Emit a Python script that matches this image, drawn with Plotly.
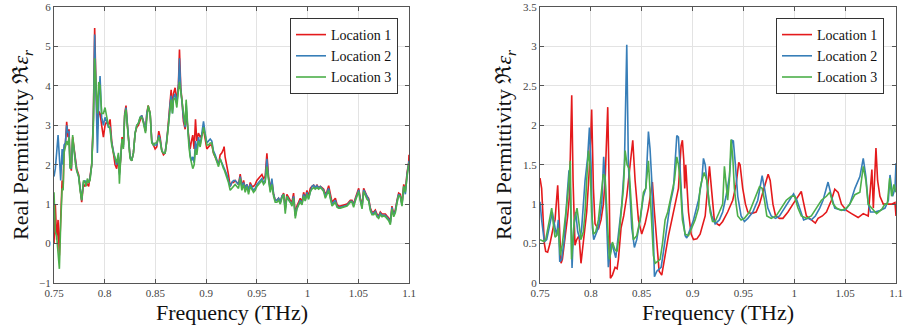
import plotly.graph_objects as go

# ---------------- Left panel data (shared frequency grid) ----------------
freq_a = [0.7500,0.7513,0.7526,0.7540,0.7553,0.7566,0.7580,0.7590,0.7599,0.7612,0.7625,0.7638,0.7648,0.7658,0.7671,0.7684,0.7697,0.7710,0.7724,0.7743,
0.7757,0.7773,0.7790,0.7806,0.7816,0.7829,0.7842,0.7855,0.7872,0.7888,0.7901,0.7914,0.7928,0.7941,0.7954,0.7970,0.7987,0.8003,0.8020,0.8036,
0.8053,0.8069,0.8086,0.8102,0.8118,0.8135,0.8145,0.8158,0.8171,0.8184,0.8197,0.8210,0.8224,0.8237,0.8250,0.8266,0.8283,0.8300,0.8316,0.8332,
0.8349,0.8365,0.8382,0.8402,0.8415,0.8428,0.8448,0.8464,0.8480,0.8497,0.8513,0.8533,0.8546,0.8563,0.8579,0.8596,0.8612,0.8628,0.8645,0.8655,
0.8668,0.8678,0.8694,0.8711,0.8727,0.8737,0.8750,0.8763,0.8776,0.8793,0.8803,0.8816,0.8829,0.8842,0.8855,0.8868,0.8882,0.8895,0.8908,0.8924,
0.8941,0.8957,0.8974,0.8990,0.9007,0.9023,0.9040,0.9056,0.9072,0.9089,0.9105,0.9122,0.9138,0.9155,0.9171,0.9177,0.9187,0.9204,0.9220,0.9237,
0.9253,0.9270,0.9286,0.9303,0.9319,0.9336,0.9352,0.9369,0.9385,0.9402,0.9418,0.9435,0.9451,0.9467,0.9484,0.9500,0.9517,0.9533,0.9550,0.9566,
0.9582,0.9599,0.9615,0.9632,0.9648,0.9665,0.9681,0.9698,0.9714,0.9731,0.9747,0.9764,0.9780,0.9796,0.9813,0.9829,0.9846,0.9862,0.9879,0.9895,
0.9912,0.9928,0.9945,0.9961,0.9977,0.9994,1.0010,1.0027,1.0043,1.0060,1.0076,1.0093,1.0109,1.0126,1.0142,1.0159,1.0175,1.0191,1.0208,1.0224,
1.0241,1.0257,1.0274,1.0290,1.0306,1.0323,1.0356,1.0389,1.0405,1.0422,1.0438,1.0454,1.0471,1.0487,1.0504,1.0520,1.0537,1.0553,1.0569,1.0586,
1.0602,1.0619,1.0635,1.0652,1.0668,1.0684,1.0701,1.0717,1.0734,1.0750,1.0767,1.0783,1.0800,1.0816,1.0832,1.0849,1.0865,1.0882,1.0898,1.0915,
1.0931,1.0948,1.0964,1.0981,1.0997,1.1000]

perm_a_loc1 = [0.00,1.00,0.10,0.60,-0.30,0.80,1.60,1.40,2.40,2.50,3.09,2.70,2.90,2.00,1.85,2.70,2.40,2.10,1.90,1.75,
1.40,1.05,1.50,1.45,1.55,1.50,1.45,1.70,2.00,3.20,5.47,4.00,2.90,3.35,3.30,3.00,2.70,3.00,3.10,3.00,
3.15,2.60,2.25,2.00,1.90,2.20,1.80,2.15,2.70,2.50,3.30,3.50,3.00,2.50,2.20,2.10,2.30,2.80,2.95,3.00,
3.15,3.25,3.10,2.85,3.30,3.50,3.30,2.60,2.50,2.40,2.45,2.85,2.70,2.35,2.25,2.30,2.60,3.00,3.60,3.90,
3.40,3.80,3.95,3.60,4.05,4.92,3.95,3.60,3.10,2.90,3.40,3.00,2.70,2.40,2.60,2.75,2.40,3.15,2.60,2.80,
2.70,2.75,2.90,2.60,2.40,2.45,2.50,2.50,2.30,2.20,2.10,2.00,2.25,2.30,2.40,2.46,2.20,2.00,1.75,1.45,
1.55,1.55,1.60,1.55,1.50,1.76,1.45,1.60,1.40,1.50,1.35,1.55,1.45,1.45,1.50,1.60,1.65,1.70,1.75,1.65,
1.70,2.29,1.70,1.40,1.60,1.25,1.10,1.10,1.15,1.05,1.20,1.28,0.90,1.25,1.15,1.10,1.05,1.28,0.75,0.95,
1.05,1.15,1.05,1.30,1.15,1.35,1.20,1.40,1.45,1.48,1.42,1.48,1.42,1.45,1.42,1.38,1.25,1.32,1.47,1.22,
1.05,1.10,1.15,1.00,0.95,0.95,0.97,1.00,1.05,1.10,1.10,1.00,1.15,1.30,1.40,1.15,0.95,1.40,1.30,1.20,
1.15,0.90,0.80,0.80,0.85,0.75,0.70,0.80,0.75,0.75,0.75,0.70,0.65,0.55,0.95,0.75,0.85,1.10,1.28,1.25,
1.00,1.50,1.35,1.80,2.05,2.25]

perm_a_loc2 = [1.70,1.90,2.30,2.75,2.20,1.60,2.40,2.00,2.50,2.55,3.00,2.80,2.85,1.95,1.90,2.65,2.40,2.10,1.85,1.70,
1.40,1.10,1.55,1.60,1.50,1.60,1.55,1.65,2.00,3.10,5.30,3.80,2.30,3.60,4.25,3.20,3.00,3.20,3.10,2.95,
2.95,2.55,2.30,2.15,2.00,2.25,1.75,2.20,2.65,2.45,3.25,3.45,2.95,2.50,2.20,2.10,2.30,2.80,3.00,3.05,
3.20,3.25,3.10,2.85,3.30,3.45,3.30,2.60,2.50,2.50,2.50,2.75,2.65,2.35,2.30,2.30,2.60,3.00,3.55,3.75,
3.30,3.70,3.80,3.55,4.00,4.70,3.90,3.55,3.20,2.95,3.55,3.00,2.60,2.25,2.10,2.20,2.05,2.60,2.35,2.70,
2.50,2.85,3.10,2.80,2.55,2.60,2.65,2.60,2.35,2.25,2.10,2.00,2.15,2.05,1.95,1.95,1.85,1.75,1.60,1.45,
1.55,1.60,1.60,1.55,1.50,1.70,1.45,1.55,1.40,1.50,1.35,1.50,1.40,1.35,1.40,1.50,1.55,1.60,1.65,1.55,
1.60,2.15,1.65,1.35,1.65,1.25,1.10,1.10,1.15,1.05,1.20,1.25,0.85,1.20,1.10,1.05,1.00,1.20,0.70,0.90,
1.00,1.10,1.00,1.25,1.10,1.30,1.15,1.35,1.45,1.48,1.42,1.47,1.40,1.45,1.40,1.35,1.20,1.28,1.40,1.18,
1.00,1.05,1.10,0.95,0.92,0.92,0.94,0.97,1.02,1.07,1.07,0.97,1.12,1.27,1.36,1.12,0.92,1.36,1.27,1.17,
1.12,0.87,0.77,0.77,0.82,0.72,0.67,0.77,0.72,0.72,0.72,0.67,0.62,0.52,0.92,0.72,0.82,1.07,1.25,1.20,
0.97,1.45,1.25,1.75,2.00,2.10]

perm_a_loc3 = [1.30,0.30,0.20,-0.20,-0.64,0.50,1.40,1.35,2.30,2.45,2.60,2.50,2.70,1.90,1.95,2.75,2.35,2.05,1.85,1.70,
1.35,1.10,1.60,1.55,1.45,1.65,1.55,1.60,2.00,3.00,4.70,3.90,3.30,4.10,4.00,3.30,3.30,3.45,3.20,3.00,
2.90,2.50,2.30,2.20,2.05,2.30,1.52,2.20,2.65,2.40,3.25,3.40,2.95,2.45,2.15,2.10,2.30,2.80,3.00,3.05,
3.20,3.20,3.05,2.80,3.25,3.50,3.30,2.55,2.50,2.55,2.55,2.70,2.60,2.35,2.30,2.30,2.60,3.00,3.55,3.65,
3.30,3.65,3.70,3.45,3.90,4.10,3.85,3.60,3.25,3.00,3.65,3.00,2.50,2.20,2.00,1.90,2.00,2.40,2.25,2.60,
2.45,2.75,2.95,2.75,2.50,2.50,2.55,2.55,2.30,2.20,2.05,1.95,2.15,2.00,1.90,1.88,1.80,1.70,1.55,1.35,
1.40,1.45,1.50,1.45,1.40,1.65,1.35,1.50,1.30,1.45,1.25,1.45,1.35,1.30,1.35,1.45,1.50,1.55,1.60,1.50,
1.55,1.95,1.60,1.30,1.50,1.20,1.05,1.05,1.10,1.00,1.15,1.25,0.76,1.20,1.10,1.05,0.95,1.15,0.64,0.88,
0.98,1.05,0.98,1.20,1.08,1.25,1.12,1.32,1.38,1.42,1.38,1.42,1.38,1.42,1.38,1.32,1.15,1.25,1.35,1.15,
0.95,1.00,1.05,0.92,0.90,0.90,0.92,0.95,1.00,1.05,1.05,0.92,1.08,1.22,1.32,1.08,0.88,1.32,1.22,1.12,
1.08,0.83,0.73,0.73,0.78,0.68,0.64,0.73,0.68,0.70,0.68,0.63,0.58,0.48,0.88,0.68,0.78,1.03,1.22,1.18,
0.95,1.45,1.30,1.70,1.95,2.05]

# ---------------- Right panel data ----------------
freq_b_loc1 = [0.7500,0.7516,0.7543,0.7556,0.7575,0.7598,0.7631,0.7648,0.7674,0.7687,0.7707,0.7720,0.7746,0.7772,0.7789,0.7812,0.7825,0.7844,0.7861,0.7884,
0.7903,0.7926,0.7959,0.7976,0.7992,0.8008,0.8025,0.8041,0.8074,0.8100,0.8123,0.8140,0.8166,0.8179,0.8192,0.8212,0.8238,0.8258,0.8271,0.8297,
0.8323,0.8353,0.8386,0.8412,0.8435,0.8468,0.8500,0.8533,0.8566,0.8599,0.8605,0.8625,0.8651,0.8671,0.8697,0.8723,0.8763,0.8796,0.8828,0.8861,
0.8887,0.8900,0.8914,0.8923,0.8933,0.8960,0.8986,0.9009,0.9042,0.9074,0.9124,0.9156,0.9166,0.9189,0.9215,0.9230,0.9263,0.9296,0.9345,0.9395,
0.9428,0.9454,0.9467,0.9493,0.9520,0.9543,0.9576,0.9625,0.9658,0.9691,0.9724,0.9743,0.9763,0.9790,0.9816,0.9855,0.9888,0.9938,0.9987,1.0036,
1.0069,1.0086,1.0119,1.0168,1.0207,1.0234,1.0276,1.0316,1.0365,1.0398,1.0431,1.0464,1.0513,1.0563,1.0596,1.0628,1.0678,1.0727,1.0763,1.0777,
1.0803,1.0819,1.0842,1.0875,1.0925,1.0957,1.0990,1.1000]
perm_b_loc1 = [1.33,1.20,0.50,0.40,0.39,0.50,0.71,0.80,1.24,0.92,0.25,0.30,0.55,0.85,1.10,2.38,1.30,0.48,0.55,0.60,
0.25,0.50,0.90,1.25,1.60,2.20,1.20,0.75,0.68,0.80,1.00,1.30,2.23,1.30,0.06,0.10,0.20,0.18,0.30,0.70,
0.85,1.10,1.50,1.81,1.30,0.80,0.62,0.75,0.95,1.25,1.28,0.90,0.40,0.15,0.10,0.30,0.60,0.80,1.00,1.20,
1.74,1.81,1.55,1.20,1.50,0.90,0.62,0.55,0.56,0.62,0.85,1.30,1.48,1.15,0.78,0.76,0.73,0.78,0.90,1.05,
1.25,1.53,1.50,1.20,1.00,0.90,0.88,0.90,1.00,1.15,1.30,1.38,1.30,1.00,0.85,0.82,0.82,0.90,1.00,1.10,
1.16,1.05,0.85,0.80,0.76,0.82,0.85,0.90,1.05,1.19,1.15,1.00,0.92,0.88,0.85,0.83,0.88,0.85,1.44,0.95,
1.71,1.30,1.10,1.00,1.00,1.00,1.02,0.85]

freq_b_loc2 = [0.7500,0.7516,0.7543,0.7566,0.7598,0.7621,0.7648,0.7664,0.7680,0.7694,0.7713,0.7739,0.7766,0.7785,0.7798,0.7815,0.7831,0.7851,0.7871,0.7894,
0.7910,0.7943,0.7969,0.7986,0.8002,0.8015,0.8028,0.8048,0.8074,0.8107,0.8126,0.8140,0.8153,0.8172,0.8199,0.8218,0.8245,0.8271,0.8304,0.8330,
0.8353,0.8369,0.8386,0.8402,0.8428,0.8451,0.8484,0.8517,0.8540,0.8566,0.8582,0.8599,0.8615,0.8625,0.8648,0.8671,0.8691,0.8714,0.8746,0.8779,
0.8812,0.8828,0.8845,0.8861,0.8878,0.8900,0.8927,0.8943,0.8976,0.9009,0.9058,0.9091,0.9107,0.9124,0.9140,0.9163,0.9189,0.9222,0.9263,0.9296,
0.9329,0.9362,0.9388,0.9401,0.9421,0.9444,0.9477,0.9510,0.9543,0.9592,0.9641,0.9674,0.9684,0.9707,0.9740,0.9773,0.9816,0.9855,0.9905,0.9954,
0.9993,1.0026,1.0069,1.0092,1.0135,1.0168,1.0207,1.0250,1.0283,1.0316,1.0332,1.0365,1.0398,1.0447,1.0497,1.0546,1.0596,1.0645,1.0678,1.0704,
1.0727,1.0750,1.0793,1.0842,1.0892,1.0925,1.0941,1.0967,1.0990,1.1000]
perm_b_loc2 = [1.03,0.80,0.52,0.55,0.75,0.90,0.70,0.60,0.80,0.27,0.30,0.55,1.10,1.43,1.20,0.19,0.70,0.90,0.65,0.55,
0.70,1.30,1.60,1.97,1.50,0.70,0.55,0.62,0.70,1.00,1.60,1.30,0.80,0.20,0.50,0.45,0.32,0.65,1.00,1.50,
3.02,1.50,1.00,0.70,0.45,0.55,0.80,1.10,1.20,1.92,1.70,1.30,0.60,0.08,0.15,0.18,0.20,0.40,0.70,1.00,
1.20,1.50,1.87,1.85,1.40,0.90,0.60,0.57,0.68,0.80,1.05,1.30,1.58,1.50,1.30,1.00,0.85,0.75,0.80,0.90,
1.10,1.35,1.81,1.80,1.50,1.10,0.85,0.78,0.82,0.90,1.05,1.30,1.36,1.20,0.95,0.85,0.82,0.85,0.95,1.05,
1.13,1.05,0.88,0.80,0.82,0.80,0.85,0.95,1.05,1.20,1.28,1.10,0.95,0.93,0.92,1.00,1.20,1.35,1.58,1.35,
1.00,0.90,0.90,0.92,0.95,1.05,1.37,1.10,1.20,1.52]

freq_b_loc3 = [0.7500,0.7533,0.7556,0.7582,0.7615,0.7631,0.7648,0.7664,0.7680,0.7700,0.7720,0.7746,0.7772,0.7798,0.7810,0.7838,0.7864,0.7884,0.7903,0.7926,
0.7943,0.7959,0.7976,0.7992,0.8008,0.8025,0.8048,0.8074,0.8100,0.8123,0.8140,0.8156,0.8172,0.8182,0.8199,0.8212,0.8238,0.8258,0.8277,0.8304,
0.8320,0.8337,0.8356,0.8376,0.8396,0.8418,0.8451,0.8484,0.8517,0.8540,0.8566,0.8582,0.8599,0.8615,0.8632,0.8658,0.8681,0.8704,0.8730,0.8756,
0.8779,0.8796,0.8822,0.8845,0.8861,0.8878,0.8900,0.8927,0.8960,0.8993,0.9025,0.9058,0.9074,0.9091,0.9114,0.9140,0.9173,0.9196,0.9222,0.9263,
0.9296,0.9313,0.9329,0.9345,0.9362,0.9378,0.9395,0.9411,0.9428,0.9444,0.9477,0.9510,0.9559,0.9608,0.9658,0.9684,0.9707,0.9730,0.9773,0.9822,
0.9872,0.9921,0.9970,1.0003,1.0036,1.0069,1.0119,1.0168,1.0217,1.0267,1.0316,1.0349,1.0382,1.0415,1.0464,1.0513,1.0546,1.0596,1.0645,1.0678,
1.0704,1.0727,1.0760,1.0809,1.0858,1.0891,1.0915,1.0938,1.0957,1.0980,1.1000]
perm_b_loc3 = [0.55,0.53,0.55,0.75,0.95,0.75,0.58,0.60,0.70,0.35,0.50,0.80,1.10,1.55,0.30,0.80,0.95,0.75,0.55,0.65,
0.90,1.30,1.68,1.50,0.90,0.62,0.65,0.80,1.10,1.38,1.35,1.00,0.50,0.30,0.40,0.52,0.42,0.40,0.60,0.95,
1.20,1.68,1.50,1.45,1.00,0.55,0.60,0.80,1.15,1.20,1.55,1.20,0.80,0.35,0.25,0.28,0.30,0.50,0.80,0.90,
1.05,1.15,1.30,1.60,1.50,1.30,0.80,0.62,0.60,0.70,0.80,0.95,1.20,1.30,1.40,1.30,0.90,0.78,0.78,0.90,
1.00,1.48,1.20,1.05,1.30,1.82,1.60,1.20,1.00,0.85,0.80,0.82,0.90,1.05,1.22,1.20,1.05,0.85,0.82,0.85,
0.95,1.05,1.10,1.10,0.95,0.85,0.82,0.85,0.95,1.05,1.10,1.15,1.00,0.95,0.92,0.95,1.00,1.12,1.15,1.48,
1.30,1.00,0.95,0.88,0.93,1.00,1.00,1.33,1.10,1.25,1.15]

series_names = ["Location 1", "Location 2", "Location 3"]
series_colors = ["#e41a1c", "#377eb8", "#4daf4a"]

x_tickvals = [0.75, 0.8, 0.85, 0.9, 0.95, 1.0, 1.05, 1.1]
x_ticktext = ["0.75", "0.8", "0.85", "0.9", "0.95", "1", "1.05", "1.1"]
ya_tickvals = [-1, 0, 1, 2, 3, 4, 5, 6]
yb_tickvals = [0, 0.5, 1, 1.5, 2, 2.5, 3, 3.5]
yb_ticktext = ["0", "0.5", "1", "1.5", "2", "2.5", "3", "3.5"]

FONT = "Times New Roman"
AXC = "#555555"

fig = go.Figure()

left = [perm_a_loc1, perm_a_loc2, perm_a_loc3]
for name, col, vals in zip(series_names, series_colors, left):
    fig.add_trace(go.Scatter(x=freq_a, y=vals, mode="lines", name=name,
                             line=dict(color=col, width=1.6),
                             xaxis="x", yaxis="y", legend="legend"))

right = [(freq_b_loc1, perm_b_loc1), (freq_b_loc2, perm_b_loc2), (freq_b_loc3, perm_b_loc3)]
for name, col, (fx, vals) in zip(series_names, series_colors, right):
    fig.add_trace(go.Scatter(x=fx, y=vals, mode="lines", name=name,
                             line=dict(color=col, width=1.6),
                             xaxis="x2", yaxis="y2", legend="legend2"))

W, H = 910, 328
def axis_common():
    return dict(showline=True, linecolor=AXC, linewidth=1, mirror="ticks",
                ticks="inside", ticklen=4, tickcolor=AXC,
                showgrid=True, gridcolor="#e3e3e3", gridwidth=1,
                zeroline=False,
                tickfont=dict(family=FONT, size=11, color="#444444"))

legend_font = dict(family=FONT, size=14, color="#111111")
ydom = [1 - 283 / H, 1 - 7 / H]
fig.update_layout(
    template="none",
    width=W, height=H,
    margin=dict(l=0, r=0, t=0, b=0),
    paper_bgcolor="white", plot_bgcolor="white",
    font=dict(family=FONT, color="#111111"),
    showlegend=True,
    xaxis=dict(domain=[54 / W, 409 / W], range=[0.75, 1.1], tickvals=x_tickvals,
               ticktext=x_ticktext, anchor="y", **axis_common()),
    yaxis=dict(domain=ydom, range=[-1, 6], tickvals=ya_tickvals, anchor="x",
               **axis_common()),
    xaxis2=dict(domain=[540 / W, 896 / W], range=[0.75, 1.1], tickvals=x_tickvals,
                ticktext=x_ticktext, anchor="y2", **axis_common()),
    yaxis2=dict(domain=ydom, range=[0, 3.5], tickvals=yb_tickvals, ticktext=yb_ticktext,
                anchor="x2", **axis_common()),
    legend=dict(x=398 / W, y=1 - 18 / H, xanchor="right", yanchor="top",
                bgcolor="white", bordercolor="#333333", borderwidth=1,
                font=legend_font, tracegroupgap=0, itemwidth=30),
    legend2=dict(x=884 / W, y=1 - 18 / H, xanchor="right", yanchor="top",
                 bgcolor="white", bordercolor="#333333", borderwidth=1,
                 font=legend_font, tracegroupgap=0, itemwidth=30),
)

ytitle = "Real Permittivity ℜ<i>ε<sub>r</sub></i>"
xtitle = "Frequency (THz)"
for xc, yc, txt, ang in [
    (231.5 / W, 1 - 312 / H, xtitle, 0),
    (718 / W, 1 - 312 / H, xtitle, 0),
    (22 / W, 1 - 145 / H, ytitle, -90),
    (505 / W, 1 - 145 / H, ytitle, -90),
]:
    fig.add_annotation(x=xc, y=yc, xref="paper", yref="paper", text=txt,
                       showarrow=False, textangle=ang, xanchor="center", yanchor="middle",
                       font=dict(family=FONT, size=22, color="#111111"))

fig.write_html("out.html")
